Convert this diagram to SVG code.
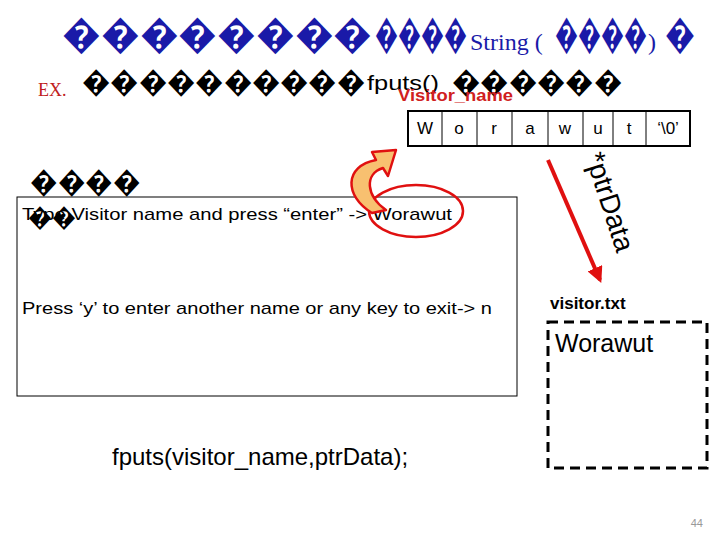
<svg xmlns="http://www.w3.org/2000/svg" width="720" height="540" viewBox="0 0 720 540">
<style>
.s{font-family:"Liberation Sans",Arial,sans-serif}
.cell{font-family:"Liberation Sans",Arial,sans-serif;font-size:17px;text-anchor:middle}
</style>
<defs>
<marker id="ah" viewBox="0 0 10 10" refX="8" refY="5" markerWidth="4" markerHeight="4" orient="auto"><path d="M0,0L10,5L0,10z" fill="#e01010"/></marker>
</defs>
<rect width="720" height="540" fill="#fff"/>
<g id="title" font-family="Liberation Serif,serif" fill="#1a1aa8">
<text x="62" y="48" font-size="40" textLength="310" lengthAdjust="spacingAndGlyphs">��������</text>
<text x="375" y="48" font-size="40" textLength="92" lengthAdjust="spacingAndGlyphs">����</text>
<text x="470" y="50" font-size="24">String (</text>
<text x="555" y="48" font-size="40" textLength="92" lengthAdjust="spacingAndGlyphs">����</text>
<text x="648" y="50" font-size="24">)</text>
<text x="665" y="48" font-size="40" textLength="30" lengthAdjust="spacingAndGlyphs">�</text>
</g>
<g id="ex"><text x="38" y="96" font-family="Liberation Serif,serif" font-size="18" fill="#c02020">EX.</text>
<text x="82" y="92" class="s" font-size="30" textLength="283" lengthAdjust="spacingAndGlyphs">����������</text>
<text x="367" y="90" class="s" font-size="20" textLength="72" lengthAdjust="spacingAndGlyphs">fputs()</text>
<text x="452" y="92" class="s" font-size="30" textLength="170" lengthAdjust="spacingAndGlyphs">������</text>
<text x="398" y="101" class="s" font-size="16" font-weight="bold" fill="#d02020" textLength="115" lengthAdjust="spacingAndGlyphs">Visitor_name</text></g>
<g id="array" fill="none" stroke="#000" stroke-width="2">
<rect x="408" y="111" width="282" height="35"/>
<path d="M442,111V146M477,111V146M512,111V146M548,111V146M583,111V146M613,111V146M646,111V146" stroke-width="1"/>
</g>
<g id="cells"><text class="cell" x="425" y="134">W</text><text class="cell" x="459" y="134">o</text><text class="cell" x="494" y="134">r</text><text class="cell" x="530" y="134">a</text><text class="cell" x="565" y="134">w</text><text class="cell" x="598" y="134">u</text><text class="cell" x="629" y="134">t</text><text class="cell" x="668" y="134">‘\0’</text></g>
<g id="console">
<text x="30" y="192" class="s" font-size="30" textLength="110" lengthAdjust="spacingAndGlyphs">����</text>
<rect x="17" y="197" width="500" height="199" fill="none" stroke="#000" stroke-width="1"/>
<text x="28" y="226" class="s" font-size="26" textLength="48" lengthAdjust="spacingAndGlyphs">��</text>
<text x="22" y="220" class="s" font-size="17" textLength="430" lengthAdjust="spacingAndGlyphs">Type Visitor name and press “enter” -&gt; Worawut</text>
<text x="22" y="314" class="s" font-size="17" textLength="470" lengthAdjust="spacingAndGlyphs">Press ‘y’ to enter another name or any key to exit-&gt; n</text>
<ellipse cx="416" cy="211" rx="47" ry="26" fill="none" stroke="#e01010" stroke-width="2.5"/>
</g>
<g id="connectors">
<path d="M372,213 C344,196 344,166 376,160 L372,152 L396,150 L388,176 L383,168 C364,174 366,196 386,210 Z" fill="#f8c070" stroke="#e01010" stroke-width="2.5" stroke-linejoin="round"/>
<line x1="548" y1="160" x2="600" y2="280" stroke="#e01010" stroke-width="4" marker-end="url(#ah)"/>
</g>
<text transform="translate(585,156) rotate(72)" class="s" font-size="28">*ptrData</text>
<g id="file">
<text x="550" y="309" class="s" font-size="17" font-weight="bold">visitor.txt</text>
<rect x="548" y="322" width="159" height="146" fill="none" stroke="#000" stroke-width="3" stroke-dasharray="10,6"/>
<text x="555" y="352" class="s" font-size="25">Worawut</text>
</g>
<text x="112" y="465" class="s" font-size="24">fputs(visitor_name,ptrData);</text>
<text x="703" y="527" class="s" font-size="11" fill="#999" text-anchor="end">44</text>
</svg>
